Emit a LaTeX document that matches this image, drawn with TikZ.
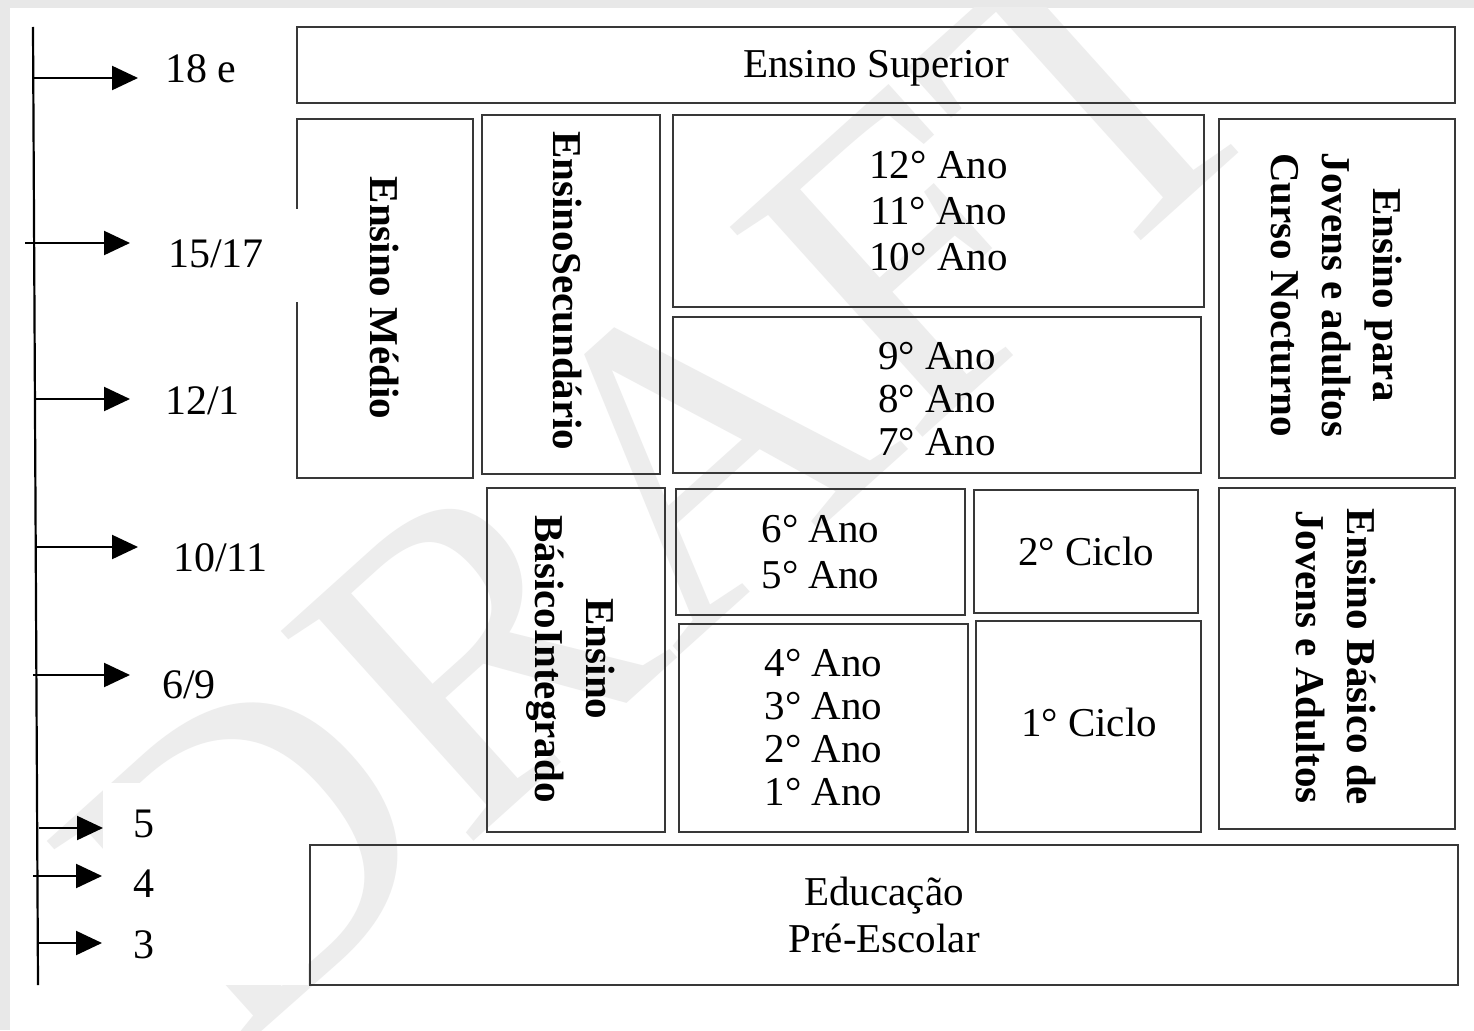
\documentclass[tikz,border=0pt]{standalone}
\usepackage{fontspec}
\setmainfont{Liberation Serif}
\usetikzlibrary{arrows.meta,calc}
\begin{document}
\begin{tikzpicture}[x=1pt,y=-1pt,
  frame/.style={draw=black!78, line width=2.3pt, inner sep=0pt},
  frameline/.style={draw=black!78, line width=2.3pt},
  boxtext/.style={font=\fontsize{41}{46}\selectfont, align=center},
  tighttext/.style={font=\fontsize{41}{43}\selectfont, align=center},
  vtext/.style={rotate=-90, inner sep=0pt, align=center, font=\bfseries\fontsize{41}{51}\selectfont},
  agelabel/.style={inner sep=0pt, anchor=west, font=\fontsize{42}{50}\selectfont},
  arr/.style={line width=2.2pt, -{Triangle[length=26pt,width=24pt]}},
  axisline/.style={line width=2.2pt}
]
\useasboundingbox (0,0) rectangle (1474,1030);
% page background with its grey margin
\fill[black!9] (0,0) rectangle (1474,1030);
\fill[white] (10,8) rectangle (1474,1030);

% watermark
\begin{scope}
  \clip (10,8) rectangle (1474,1030);
  \node[text=black!7, rotate=42, inner sep=0pt, font=\fontsize{435}{435}\selectfont] (wm) at (663,478) {DRAFT};
\end{scope}

% white frame behind the youngest ages
\fill[white] (103,783) rectangle (308,985);

% ---------- levels ----------
\node[frame, minimum width=1158pt, minimum height=76pt] (sup) at (876,65) {};
\node[boxtext, inner sep=0pt] (supt) at (876,68) {Ensino Superior};

\node[inner sep=0pt, minimum width=176pt, minimum height=359pt] (medio) at (385,298.5) {};
\draw[frameline] ($(medio.north west)+(0,90)$) -- (medio.north west) -- (medio.north east)
  -- (medio.south east) -- (medio.south west) -- ($(medio.south west)+(0,-176)$);
\node[vtext] (mediot) at (385,298) {Ensino Médio};

\node[frame, minimum width=178pt, minimum height=359pt] (sec) at (571,294.5) {};
\node[vtext] (sect) at (567,291) {EnsinoSecundário};

\node[frame, boxtext, minimum width=531pt, minimum height=192pt] (a10) at (938.5,211) {12° Ano\\11° Ano\\10° Ano};
\node[frame, minimum width=528pt, minimum height=156pt] (a7) at (937,395) {};
\node[tighttext, inner sep=0pt] (a7t) at (937,399) {9° Ano\\8° Ano\\7° Ano};

\node[frame, minimum width=236pt, minimum height=359pt] (eja) at (1337,298.5) {};
\node[vtext] (ejat) at (1336,295) {Ensino para\\Jovens e adultos\\Curso Nocturno};

\node[frame, minimum width=178pt, minimum height=344pt] (bi) at (576,660) {};
\node[vtext] (bit) at (570.5,659) {Ensino\\BásicoIntegrado};

\node[frame, boxtext, minimum width=289pt, minimum height=126pt] (a5) at (820.5,552) {6° Ano\\5° Ano};
\node[frame, tighttext, minimum width=289pt, minimum height=208pt] (a1) at (823.5,728) {4° Ano\\3° Ano\\2° Ano\\1° Ano};

\node[frame, boxtext, minimum width=224pt, minimum height=123pt] (c2) at (1086,551.5) {2° Ciclo};
\node[frame, minimum width=225pt, minimum height=211pt] (c1) at (1088.5,726.5) {};
\node[boxtext, inner sep=0pt] (c1t) at (1089,722) {1° Ciclo};

\node[frame, minimum width=236pt, minimum height=341pt] (ebja) at (1337,658.5) {};
\node[vtext] (ebjat) at (1336,657) {Ensino Básico de\\Jovens e Adultos};

\node[frame, font=\fontsize{41}{47}\selectfont, align=center, minimum width=1148pt, minimum height=140pt] (pre) at (884,915) {Educação\\Pré-Escolar};

% ---------- age axis ----------
\coordinate (axtop) at (33,27);
\coordinate (axbot) at (38,985);
\draw[axisline] (axtop) -- (axbot);

\node[agelabel] (l18) at (165,69) {18 e};
\node[agelabel] (l1517) at (168,254) {15/17};
\node[agelabel] (l121) at (165,401) {12/1};
\node[agelabel] (l1011) at (173,558) {10/11};
\node[agelabel] (l69) at (162,685) {6/9};
\node[agelabel] (l5) at (133,824) {5};
\node[agelabel] (l4) at (133,884) {4};
\node[agelabel] (l3) at (133,945) {3};

\coordinate (s18) at (33,78);
\coordinate (s1517) at (25,243);
\coordinate (s121) at (35,399);
\coordinate (s1011) at (35,547);
\coordinate (s69) at (33,675);
\coordinate (s5) at (39,828);
\coordinate (s4) at (33,876);
\coordinate (s3) at (38,943);

\draw[arr, shorten >=27pt] (s18) -- (s18 -| l18.west);
\draw[arr, shorten >=38pt] (s1517) -- (s1517 -| l1517.west);
\draw[arr, shorten >=35pt] (s121) -- (s121 -| l121.west);
\draw[arr, shorten >=35pt] (s1011) -- (s1011 -| l1011.west);
\draw[arr, shorten >=32pt] (s69) -- (s69 -| l69.west);
\draw[arr, shorten >=30pt] (s5) -- (s5 -| l5.west);
\draw[arr, shorten >=31pt] (s4) -- (s4 -| l4.west);
\draw[arr, shorten >=31pt] (s3) -- (s3 -| l3.west);
\end{tikzpicture}
\end{document}
